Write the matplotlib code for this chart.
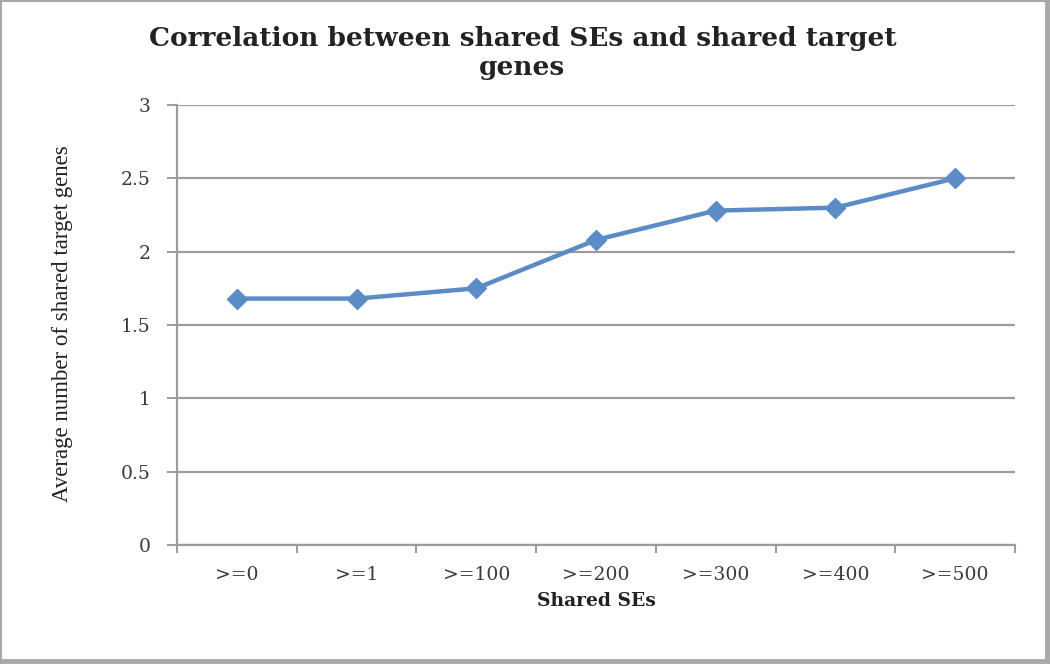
import matplotlib.pyplot as plt
from matplotlib.lines import Line2D
import numpy as np

# Data
categories = ['>=0', '>=1', '>=100', '>=200', '>=300', '>=400', '>=500']
avg_shared_genes = [1.68, 1.68, 1.75, 2.08, 2.28, 2.30, 2.50]

line_color = '#5B8CC6'
grid_color = '#9C9C9C'
serif = ['DejaVu Serif']
narrow_serif = ['Liberation Serif', 'DejaVu Serif']

fig = plt.figure(figsize=(10.5, 6.64), dpi=100)
ax = fig.add_axes([0.1686, 0.1792, 0.7981, 0.6627])

x = np.arange(len(categories))
ax.plot(x, avg_shared_genes, color=line_color, linewidth=3.2,
        marker='D', markersize=10, markerfacecolor=line_color,
        markeredgecolor=line_color, zorder=3)

ax.set_xlim(-0.5, len(categories) - 0.5)
ax.set_ylim(0, 3)
ax.set_yticks(np.arange(0, 3.01, 0.5))
ax.set_yticklabels(['0', '0.5', '1', '1.5', '2', '2.5', '3'])
ax.yaxis.grid(True, color=grid_color, linewidth=1.6)
ax.set_axisbelow(True)

# category boundaries get tick marks, labels sit in the middle
ax.set_xticks(np.arange(-0.5, len(categories), 1.0))
ax.set_xticklabels([])
ax.set_xticks(x, minor=True)
ax.set_xticklabels(categories, minor=True)
ax.tick_params(axis='x', which='minor', length=0, pad=15)
ax.tick_params(axis='x', which='major', length=6, width=1.4, color=grid_color)
ax.tick_params(axis='y', length=7, width=1.4, color=grid_color, pad=12)

for lab in ax.get_xticklabels(minor=True) + ax.get_yticklabels():
    lab.set_family(serif)
    lab.set_fontsize(13.5)
    lab.set_color('#3A3A3A')

for side in ['top', 'right']:
    ax.spines[side].set_visible(False)
for side in ['left', 'bottom']:
    ax.spines[side].set_color(grid_color)
    ax.spines[side].set_linewidth(1.6)

ax.set_xlabel('Shared SEs', family=serif, fontsize=13.5, fontweight='bold',
              color='#222222', labelpad=6)
ax.set_ylabel('Average number of shared target genes', family=narrow_serif,
              fontsize=16.5, color='#222222')
ax.yaxis.set_label_coords(-0.124, 0.502)

fig.text(0.4976, 0.9195, 'Correlation between shared SEs and shared target\ngenes',
         ha='center', va='center', family=serif, fontsize=19, fontweight='bold',
         color='#222222', linespacing=1.2)

# grey frame around the whole picture: thin top/left, thicker right/bottom
frame = '#A8A8A8'
W, H = 1050, 664
fig.add_artist(Line2D([0, 1], [1 - 1 / H, 1 - 1 / H], color=frame, linewidth=1.5))
fig.add_artist(Line2D([1 / W, 1 / W], [0, 1], color=frame, linewidth=1.5))
fig.add_artist(Line2D([1 - 3 / W, 1 - 3 / W], [0, 1], color=frame, linewidth=3.5))
fig.add_artist(Line2D([0, 1], [3 / H, 3 / H], color=frame, linewidth=3.5))

fig.savefig('out.png', dpi=100)
